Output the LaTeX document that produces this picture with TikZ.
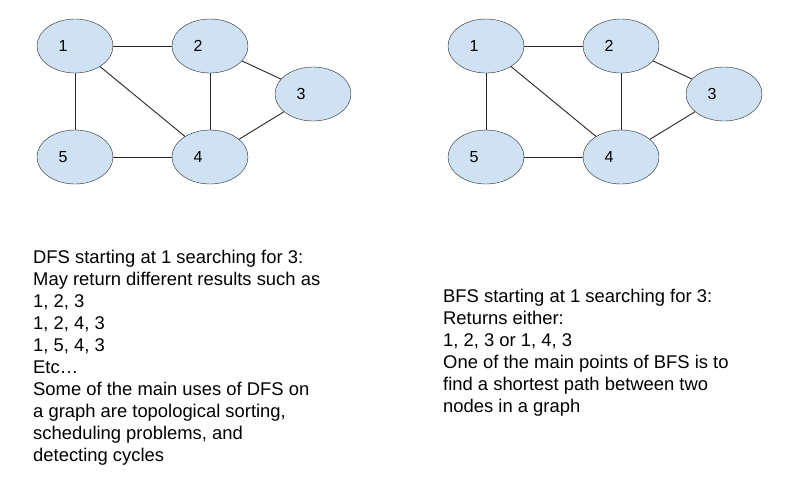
\documentclass[tikz,border=0pt]{standalone}
\usepackage{fontspec}
\setmainfont{Liberation Sans}
\usetikzlibrary{shapes.geometric}
\definecolor{nodeblue}{HTML}{CFE2F3}

\begin{document}
\begin{tikzpicture}[x=1pt,y=-1pt]
    \useasboundingbox (0,0) rectangle (791,488);

    % DFS graph
    \begin{scope}[every node/.style={ellipse,draw=black!85,fill=nodeblue,minimum width=76pt,minimum height=54pt,
        text width=33pt,align=left,font=\fontsize{16}{16}\selectfont}]
      \node (d1) at (75,46) {1};
      \node (d2) at (210,46) {2};
      \node (d3) at (313,94) {3};
      \node (d4) at (210,157) {4};
      \node (d5) at (75,157) {5};
    \end{scope}

    % BFS graph
    \begin{scope}[every node/.style={ellipse,draw=black!85,fill=nodeblue,minimum width=76pt,minimum height=54pt,
        text width=33pt,align=left,font=\fontsize{16}{16}\selectfont}]
      \node (b1) at (486,46) {1};
      \node (b2) at (621,46) {2};
      \node (b3) at (724,94) {3};
      \node (b4) at (621,157) {4};
      \node (b5) at (486,157) {5};
    \end{scope}

    \begin{scope}[every edge/.style={draw=black!85,line width=0.9pt}]
      \path (d1) edge (d2);
      \path (d1) edge (d5);
      \path (d1) edge (d4);
      \path (d2) edge (d4);
      \path (d2) edge (d3);
      \path (d3) edge (d4);
      \path (d5) edge (d4);
      \path (b1) edge (b2);
      \path (b1) edge (b5);
      \path (b1) edge (b4);
      \path (b2) edge (b4);
      \path (b2) edge (b3);
      \path (b3) edge (b4);
      \path (b5) edge (b4);
    \end{scope}

    % base of a node with several lines is the last line
    \begin{scope}[every node/.style={anchor=base west,align=left,inner sep=0pt,font=\fontsize{18.4}{22}\selectfont}]
      \node (dfstext) at (33,461) {DFS starting at 1 searching for 3:\\
        May return different results such as\\
        1, 2, 3\\
        1, 2, 4, 3\\
        1, 5, 4, 3\\
        Etc\dots\\
        Some of the main uses of DFS on\\
        a graph are topological sorting,\\
        scheduling problems, and\\
        detecting cycles};
      \node (bfstext) at (443,412) {BFS starting at 1 searching for 3:\\
        Returns either:\\
        1, 2, 3 or 1, 4, 3\\
        One of the main points of BFS is to\\
        find a shortest path between two\\
        nodes in a graph};
    \end{scope}
\end{tikzpicture}
\end{document}
